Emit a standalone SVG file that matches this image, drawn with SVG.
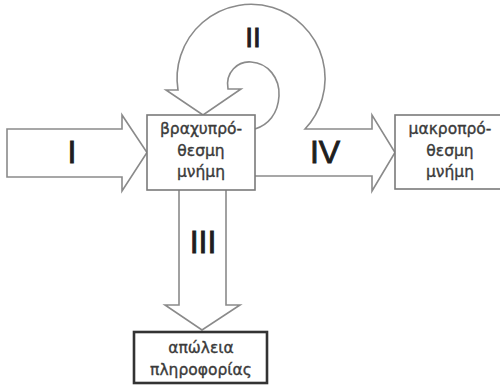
<svg xmlns="http://www.w3.org/2000/svg" width="500" height="385" viewBox="0 0 500 385">
<style>
.arrow{fill:none;stroke:#8a8a8a;stroke-width:1.6;stroke-linejoin:miter}
.box{fill:#fff;stroke:#7a7a7a;stroke-width:1.6}
.box3{fill:#fff;stroke:#333;stroke-width:2.6}
.t{font-family:"DejaVu Sans","Liberation Sans",sans-serif;font-size:15.5px;fill:#3a3a3a;stroke:#3a3a3a;stroke-width:0.35;text-anchor:middle}
.num{font-family:"Liberation Sans",Arial,sans-serif;fill:#1e1e1e;stroke:#1e1e1e;stroke-width:0.9;text-anchor:middle}
</style>
<rect width="500" height="385" fill="#fff"/>
<g id="connectors">
<path id="arrow-I" class="arrow" d="M7,129 L122,129 L122,115 L147,152.5 L122,191 L122,177 L7,177 Z"/>
<path id="arrow-II-IV" class="arrow" d="M255,176 L372,176 L372,191 L395,152.5 L372,115 L372,129 L305,129 A74,74 0 1 0 178,90 L166,90 L203,115 L241,89 L228,89 C225,72 238,61 251,62 C268,63 280,78 279,96 C278,114 268,125 255,129"/>
<path id="arrow-III" class="arrow" d="M179,190 L179,305 L165,305 L202,330 L240,305 L226,305 L226,190"/>
<text class="num" x="72" y="163" font-size="32">I</text>
<text class="num" x="253" y="47" font-size="28">II</text>
<text class="num" x="325" y="163" font-size="32">IV</text>
<text class="num" x="203" y="253" font-size="32">III</text>
</g>
<g id="short-term">
<rect class="box" x="147" y="115" width="108" height="75"/>
<text class="t" x="201" y="134">βραχυπρό-</text>
<text class="t" x="201" y="156">θεσμη</text>
<text class="t" x="201" y="177">μνήμη</text>
</g>
<g id="long-term">
<rect class="box" x="395" y="115" width="110" height="74"/>
<text class="t" x="450" y="134">μακροπρό-</text>
<text class="t" x="450" y="156">θεσμη</text>
<text class="t" x="450" y="177">μνήμη</text>
</g>
<g id="loss">
<rect class="box3" x="134" y="332" width="133" height="51"/>
<text class="t" x="201" y="353">απώλεια</text>
<text class="t" x="201" y="375">πληροφορίας</text>
</g>
</svg>
